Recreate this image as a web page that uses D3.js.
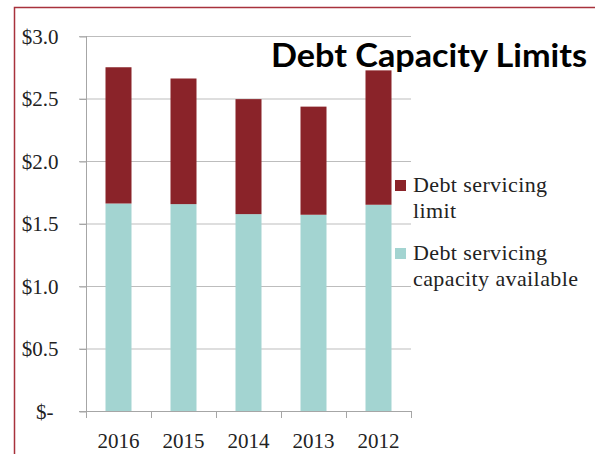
<!DOCTYPE html>
<html><head><meta charset="utf-8">
<script src="https://cdn.jsdelivr.net/npm/d3@7"></script>
<style>html,body{margin:0;padding:0;background:#fff;}</style>
</head><body>
<svg id="c" width="595" height="454"></svg>
<script>
const categories = ["2016","2015","2014","2013","2012"];
const capacityAvailable = [1.66, 1.655, 1.575, 1.57, 1.65];
const servicingLimit = [1.09, 1.005, 0.92, 0.865, 1.075];
const yTicks = [0, 0.5, 1.0, 1.5, 2.0, 2.5, 3.0];
const seriesNames = ["Debt servicing limit", "Debt servicing capacity available"];
const title = "Debt Capacity Limits";

const svg = d3.select("#c");
const serif = "'Liberation Serif', 'Times New Roman', serif";
const red = "#8a2329", teal = "#a3d4d1";

// frame
svg.append("path").attr("d","M14.5,454 L14.5,7.5 L595,7.5").attr("fill","none")
  .attr("stroke","#a8323c").attr("stroke-width",1.5);

const x = d3.scaleBand().domain(categories).range([86,411]).paddingInner(0.6).paddingOuter(0.3);
const y = d3.scaleLinear().domain([0,3]).range([411,36]);

// gridlines
svg.append("g").selectAll("line").data(yTicks.filter(d=>d>0)).join("line")
  .attr("x1",79).attr("x2",411).attr("y1",d=>y(d)+0.5).attr("y2",d=>y(d)+0.5)
  .attr("stroke","#bdbdbd").attr("stroke-width",1);

// bars
const rows = categories.map((c,i)=>({cat:c, cap:capacityAvailable[i], lim:servicingLimit[i]}));
const stack = d3.stack().keys(["cap","lim"])(rows);
const colors = {cap:teal, lim:red};
svg.append("g").selectAll("g").data(stack).join("g").attr("fill",d=>colors[d.key])
  .selectAll("rect").data(d=>d).join("rect")
  .attr("x",d=>x(d.data.cat)).attr("width",x.bandwidth())
  .attr("y",d=>y(d[1])).attr("height",d=>y(d[0])-y(d[1]));

// axes
const yAxis = d3.axisLeft(y).tickValues(yTicks).tickSize(7).tickPadding(0)
  .tickFormat(d=> d===0 ? "$-" : "$"+d3.format(".1f")(d));
const gy = svg.append("g").attr("transform","translate(86.5,0.5)").call(yAxis);
gy.select(".domain").attr("stroke","#a6a6a6").attr("d","M0,"+(36-0.5)+"V"+(411));
gy.selectAll(".tick line").attr("stroke","#a6a6a6");
gy.selectAll(".tick text").attr("font-family",serif).attr("font-size",21).attr("fill","#222")
  .attr("x",d=>d===0?-33:-28).attr("dy","0.32em");

const xTickPos = d3.range(categories.length+1).map(i=>86+i*65);
svg.append("line").attr("x1",79).attr("x2",411).attr("y1",411.5).attr("y2",411.5).attr("stroke","#a6a6a6");
svg.append("g").selectAll("line").data(xTickPos).join("line")
  .attr("x1",d=>d+0.5).attr("x2",d=>d+0.5).attr("y1",411).attr("y2",418).attr("stroke","#a6a6a6");
svg.append("g").selectAll("text").data(categories).join("text")
  .attr("x",d=>x(d)+x.bandwidth()/2).attr("y",448).attr("text-anchor","middle")
  .attr("font-family",serif).attr("font-size",21).attr("fill","#222").text(d=>d);

// title
svg.append("text").attr("x",587).attr("y",67).attr("text-anchor","end")
  .attr("font-family","Lato, 'Open Sans', sans-serif").attr("font-weight","bold")
  .attr("font-size",32).attr("fill","#000").text(title)
  .attr("textLength",316).attr("lengthAdjust","spacingAndGlyphs");

// legend
const legend = [
  {c:red, lines:["Debt servicing","limit"], y:180},
  {c:teal, lines:["Debt servicing","capacity available"], y:248}
];
const lg = svg.append("g");
legend.forEach(l=>{
  lg.append("rect").attr("x",395).attr("y",l.y).attr("width",11).attr("height",11).attr("fill",l.c);
  l.lines.forEach((t,j)=>{
    lg.append("text").attr("x",413).attr("y",l.y+12+j*26).attr("font-family",serif)
      .attr("font-size",22).attr("letter-spacing",0.4).attr("fill","#222").text(t);
  });
});
</script>
</body></html>
